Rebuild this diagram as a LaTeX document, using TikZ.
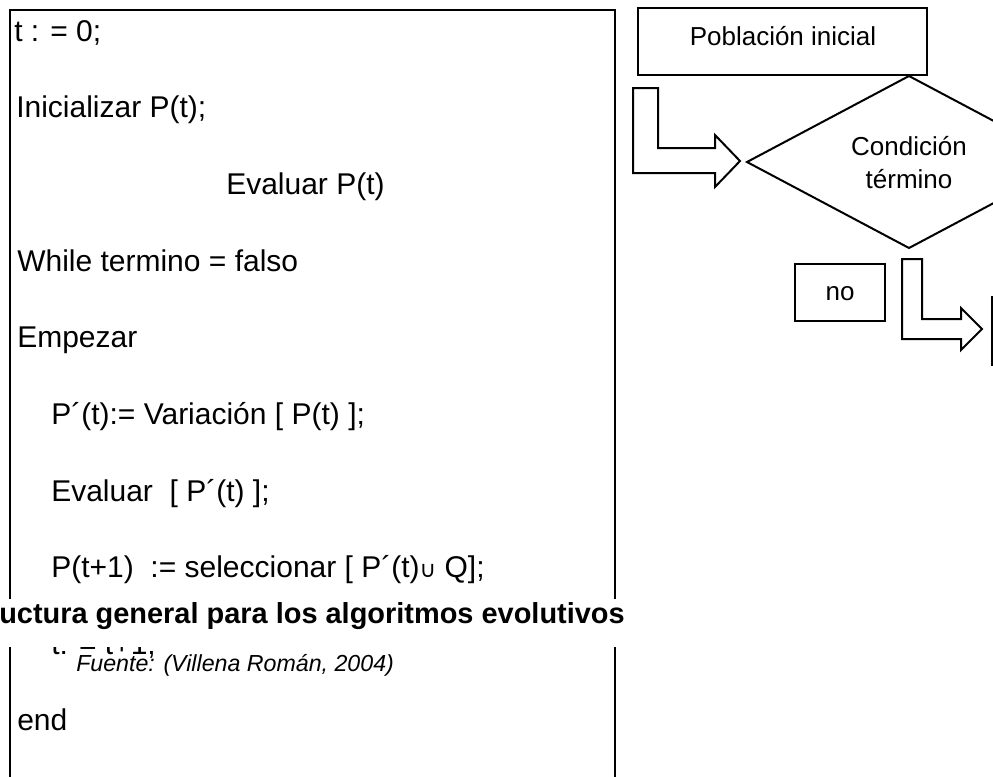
\documentclass[tikz,border=0pt]{standalone}
\usepackage{fontspec}
\setmainfont{Liberation Sans}
\newfontfamily\symfont{DejaVu Sans}
\begin{document}
\begin{tikzpicture}[x=0.75pt,y=-0.75pt,
  code/.style={anchor=base west, inner sep=0pt, font=\fontsize{22.5}{27}\selectfont},
  lbl/.style={anchor=base, inner sep=0pt, font=\fontsize{19.5}{23}\selectfont},
  frame/.style={draw=black, line width=1.9pt},
  shp/.style={draw=black, line width=1.5pt, line join=miter}]
\useasboundingbox (0,0) rectangle (993,776);
\clip (0,0) rectangle (993,776);
\fill[white] (0,0) rectangle (993,776);

% left frame
\draw[frame] (10,800) -- (10,10) -- (615,10) -- (615,800);

% code lines
\node[code] (l0) at (14,41) {t : = 0;};
\node[code] (l1) at (16,117.7) {Inicializar P(t);};
\node[code] (l2) at (226,194.3) {Evaluar P(t)};
\node[code] (l3) at (17,271) {While termino = falso};
\node[code] (l4) at (17,347.7) {Empezar};
\node[code] (l5) at (51,424.3) {P´(t):= Variación [ P(t) ];};
\node[code] (l6) at (51,501) {Evaluar\ \ [ P´(t) ];};
\node[code] (l7) at (51,577.7) {P(t+1)\ \ := seleccionar [ P´(t){\symfont\fontsize{17}{20}\selectfont ∪} Q];};
\node[code] (l8) at (51,654.3) {t: = t+1;};
\node[code] (l9) at (17,730) {end};

% caption with white background
\fill[white] (-2,599) rectangle (630,647);
\node[anchor=base west, inner sep=0pt, font=\fontsize{21.7}{26}\selectfont\bfseries] (cap) at (-1,623) {uctura general para los algoritmos evolutivos};
\node[anchor=base west, inner sep=0pt, font=\fontsize{17.4}{21}\selectfont\itshape] (src) at (76,671) {Fuente: (Villena Román, 2004)};

% right side flow
\draw[shp] (638,8) rectangle (927,75);
\node[lbl] (pop) at (783,45) {Población inicial};

\draw[shp] (909,76) -- (747,162) -- (909,248) -- (1071,162) -- cycle;
\node[lbl] (cond1) at (909,155) {Condición};
\node[lbl] (cond2) at (909,188) {término};

% block arrow 1
\draw[shp] (633,88) -- (658,88) -- (658,148) -- (715,148) -- (715,135) -- (740,161)
  -- (715,187) -- (715,173) -- (633,173) -- cycle;

% no box
\draw[shp] (795,264) rectangle (885,321);
\node[lbl] (no) at (840,300) {no};

% block arrow 2
\draw[shp] (902,259) -- (922,259) -- (922,319) -- (961,319) -- (961,308) -- (982,329)
  -- (961,350) -- (961,339) -- (902,339) -- cycle;

% cut box at right edge
\draw[shp] (992,297) rectangle (1100,365);
\end{tikzpicture}
\end{document}
